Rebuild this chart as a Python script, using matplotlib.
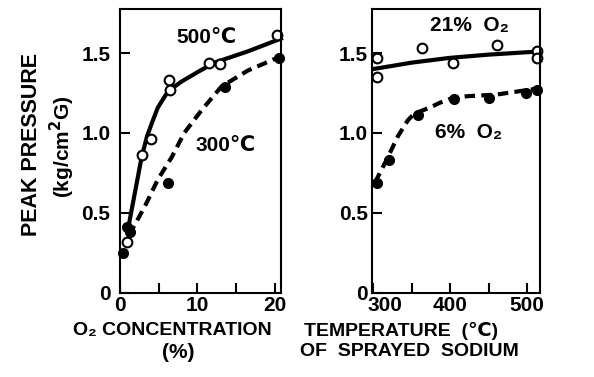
import matplotlib
matplotlib.use("Agg")
import matplotlib.pyplot as plt
import matplotlib.transforms as mtransforms

plt.rcParams['font.family'] = ['Liberation Sans', 'DejaVu Sans']

# left panel: peak pressure vs O2 concentration
o2_500_x = [0.9, 2.8, 4.0, 6.3, 6.5, 11.5, 12.9, 20.3]
o2_500_y = [0.32, 0.86, 0.96, 1.33, 1.27, 1.44, 1.43, 1.61]
o2_300_x = [0.4, 0.9, 1.3, 6.2, 13.6, 20.5]
o2_300_y = [0.25, 0.41, 0.38, 0.69, 1.29, 1.47]
# fitted curves as drawn
fit_500_x = [1.0, 2.8, 3.5, 4.1, 4.9, 6.2, 7.9, 10.0, 12.2, 16.5, 20.8]
fit_500_y = [0.39, 0.85, 0.98, 1.06, 1.16, 1.26, 1.32, 1.38, 1.44, 1.51, 1.59]
fit_300_x = [1.0, 1.5, 3.2, 4.9, 6.7, 8.3, 10.5, 13.1, 16.5, 20.8]
fit_300_y = [0.37, 0.39, 0.54, 0.71, 0.85, 1.00, 1.14, 1.29, 1.39, 1.48]

# right panel: peak pressure vs sodium temperature
t21_x = [305, 305, 363, 404, 461, 513, 513]
t21_y = [1.47, 1.35, 1.53, 1.44, 1.55, 1.51, 1.47]
t6_x = [305, 320, 358, 405, 450, 499, 513]
t6_y = [0.69, 0.83, 1.11, 1.21, 1.22, 1.25, 1.27]
fit21_x = [300, 350, 400, 450, 517]
fit21_y = [1.40, 1.44, 1.47, 1.49, 1.51]
fit6_x = [302, 317, 332, 345, 353, 374, 387, 404, 422, 460, 517]
fit6_y = [0.69, 0.83, 0.98, 1.08, 1.12, 1.16, 1.19, 1.22, 1.23, 1.24, 1.28]

yticks = [0, 0.5, 1.0, 1.5]
ytick_labels = ["0", "0.5", "1.0", "1.5"]

fig = plt.figure(figsize=(5.94, 3.77), dpi=100)
ax1 = fig.add_axes([0.202, 0.223, 0.271, 0.753])
ax2 = fig.add_axes([0.626, 0.223, 0.283, 0.753])


def style_axis(ax):
    for s in ax.spines.values():
        s.set_linewidth(1.5)
    ax.set_ylim(0, 1.775)
    ax.set_yticks(yticks)
    ax.set_yticklabels(ytick_labels)
    ax.tick_params(direction="in", length=7, width=1.5, labelsize=15)
    for lab in ax.get_xticklabels() + ax.get_yticklabels():
        lab.set_fontweight("bold")


ax1.plot(fit_500_x, fit_500_y, color="black", lw=3, clip_on=False)
ax1.plot(fit_300_x, fit_300_y, color="black", lw=3, ls=(0, (2.5, 1.5)), clip_on=False)
ax1.plot(o2_500_x, o2_500_y, "o", ms=7, mfc="white", mec="black", mew=1.5, clip_on=False)
ax1.plot(o2_300_x, o2_300_y, "o", ms=7, mfc="black", mec="black", clip_on=False)
ax1.set_xlim(0, 20.8)
ax1.set_xticks([0, 5, 10, 15, 20])
ax1.set_xticklabels(["0", "", "10", "", "20"])
style_axis(ax1)
ax1.tick_params(axis="y", pad=7)
ax1.tick_params(axis="x", pad=2)
ax1.text(11.2, 1.6, "500℃", ha="center", va="center", fontsize=15, fontweight="bold")
ax1.text(13.6, 0.92, "300℃", ha="center", va="center", fontsize=15, fontweight="bold")

ax2.plot(fit21_x, fit21_y, color="black", lw=3, clip_on=False)
ax2.plot(fit6_x, fit6_y, color="black", lw=3, ls=(0, (2.5, 1.5)), clip_on=False)
ax2.plot(t21_x, t21_y, "o", ms=7, mfc="white", mec="black", mew=1.5, clip_on=False)
ax2.plot(t6_x, t6_y, "o", ms=7, mfc="black", mec="black", clip_on=False)
ax2.set_xlim(298, 517)
ax2.set_xticks([300, 350, 400, 450, 500])
ax2.set_xticklabels(["300", "", "400", "", "500"])
style_axis(ax2)
ax2.tick_params(axis="y", pad=3)
ax2.tick_params(axis="x", pad=2)
# shift "300" right, clear of the corner
first = ax2.get_xticklabels()[0]
first.set_transform(first.get_transform() + mtransforms.ScaledTranslation(12 / 100, 0, fig.dpi_scale_trans))
ax2.text(425, 1.67, "21%  O₂", ha="center", va="center", fontsize=15, fontweight="bold")
ax2.text(424, 1.0, "6%  O₂", ha="center", va="center", fontsize=15, fontweight="bold")

# axis titles
fig.text(32 / 594, 1 - 145 / 377, "PEAK PRESSURE", rotation=90, ha="center", va="center",
         fontsize=15.5, fontweight="bold")
fig.text(62 / 594, 1 - 147 / 377, "(kg/cm$^\\mathbf{2}$G)", rotation=90, ha="center", va="center",
         fontsize=15, fontweight="bold")
fig.text(172 / 594, 1 - 331 / 377, "O₂ CONCENTRATION", ha="center", va="center", fontsize=14, fontweight="bold")
fig.text(178 / 594, 1 - 352 / 377, "(%)", ha="center", va="center", fontsize=15, fontweight="bold")
fig.text(401 / 594, 1 - 331 / 377, "TEMPERATURE  (℃)", ha="center", va="center", fontsize=14, fontweight="bold")
fig.text(409 / 594, 1 - 352 / 377, "OF  SPRAYED  SODIUM", ha="center", va="center", fontsize=14, fontweight="bold")

fig.savefig("out.png", dpi=100)
